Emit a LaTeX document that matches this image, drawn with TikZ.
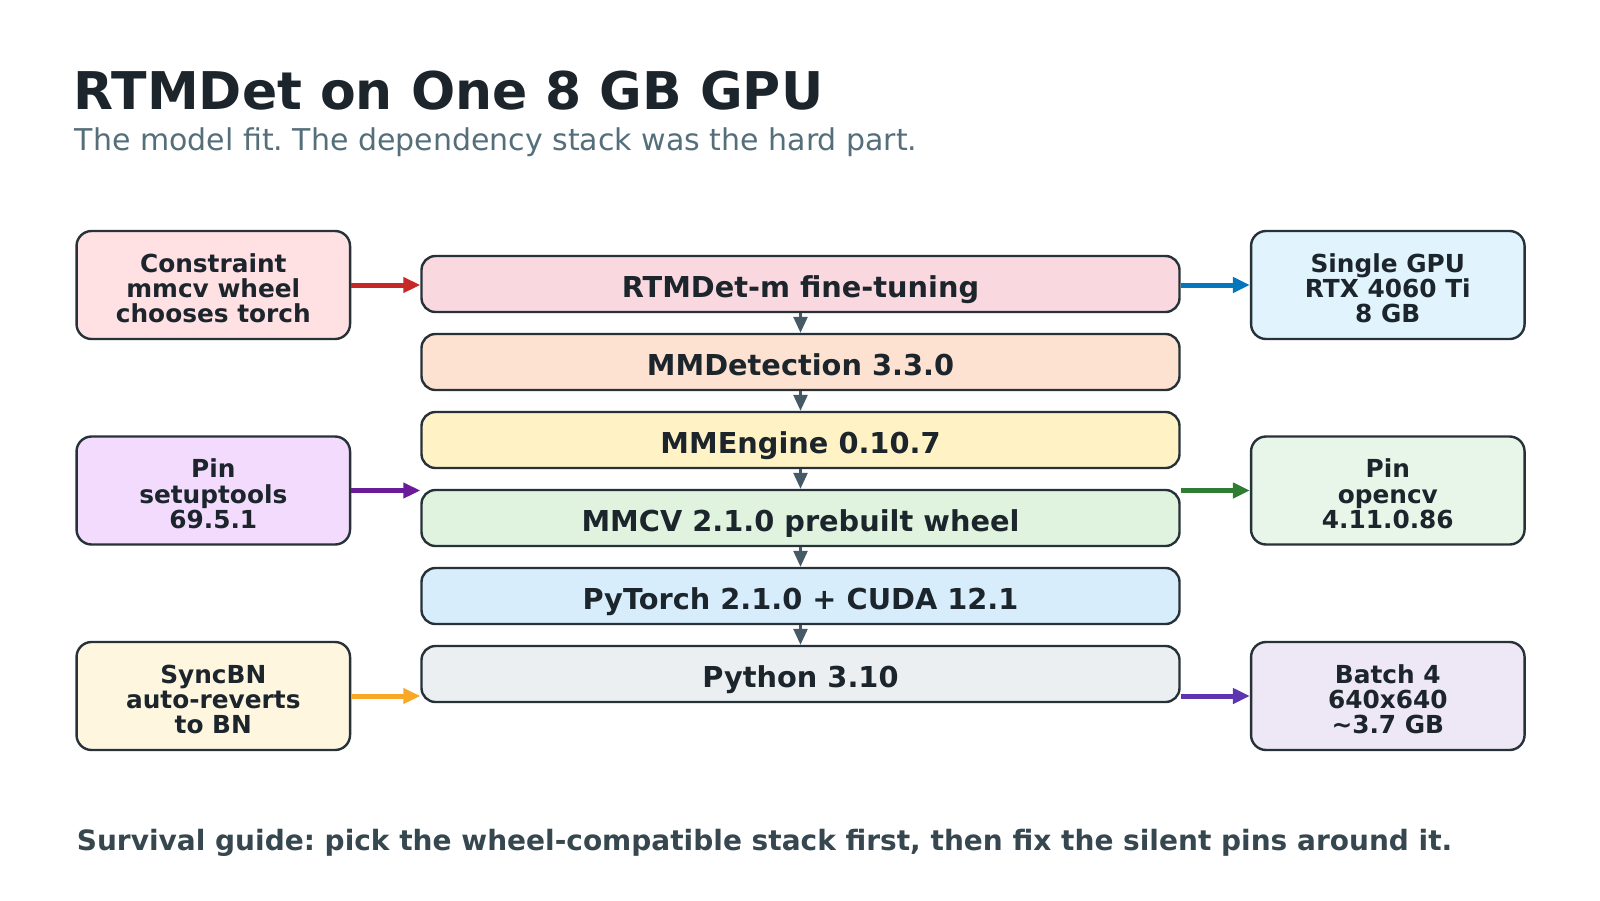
\documentclass[tikz,border=0pt]{standalone}
\usepackage{fontspec}
\setmainfont{DejaVu Sans}
\usetikzlibrary{arrows.meta}
\frenchspacing

\definecolor{ink}{HTML}{1C252C}
\definecolor{edge}{HTML}{263238}
\definecolor{subtle}{HTML}{546E7A}
\definecolor{foot}{HTML}{37474F}
\definecolor{down}{HTML}{455A64}
% side box fills
\definecolor{consfill}{HTML}{FFE0E3}
\definecolor{setupfill}{HTML}{F3DBFD}
\definecolor{syncfill}{HTML}{FFF6E0}
\definecolor{gpufill}{HTML}{E1F4FD}
\definecolor{opencvfill}{HTML}{E8F5E9}
\definecolor{batchfill}{HTML}{EDE7F6}
% side arrows
\definecolor{consline}{HTML}{C62828}
\definecolor{setupline}{HTML}{6A1B9A}
\definecolor{syncline}{HTML}{F9A825}
\definecolor{gpuline}{HTML}{0277BD}
\definecolor{opencvline}{HTML}{2E7D32}
\definecolor{batchline}{HTML}{5E35B1}

\tikzset{
  stackbox/.style={draw=edge, line width=1.2pt, rounded corners=7pt, minimum width=379pt, minimum height=28pt,
    inner sep=0pt, text height=13.2pt, text depth=0pt, text=ink, font=\fontsize{14.4}{16}\selectfont\bfseries},
  sidebox/.style={draw=edge, line width=1.2pt, rounded corners=7.5pt, minimum width=136.75pt, minimum height=54pt,
    inner sep=0pt, align=center, text=ink, font=\fontsize{12.4}{12.6}\selectfont\bfseries,
    execute at begin node={\rule{0pt}{38pt}}},
  sidearrow/.style={line width=2.5pt, -{Triangle[length=8.5pt,width=7.5pt]}},
  downarrow/.style={down, line width=1.3pt, -{Triangle[length=8pt,width=7pt]}}
}

\begin{document}
\begin{tikzpicture}[x=0.5pt, y=-0.5pt]
\useasboundingbox (0,0) rectangle (1600,900);

% heading
\node[anchor=base west, inner sep=0, text=ink, font=\fontsize{26}{30}\selectfont\bfseries] (title) at (73.5,109) {RTMDet on One 8 GB GPU};
\node[anchor=base west, inner sep=0, text=subtle, font=\fontsize{15}{18}\selectfont] (sub) at (74.5,150) {The model fit. The dependency stack was the hard part.};

% the stack
\foreach \n/\y/\c/\t in {rtm/284/F9D8E0/RTMDet-m fine-tuning, mmdet/362/FDE2D1/MMDetection 3.3.0,
  mmengine/440/FFF2C4/MMEngine 0.10.7, mmcv/518/DFF3DE/MMCV 2.1.0 prebuilt wheel,
  torch/596/D7EDFC/PyTorch 2.1.0 + CUDA 12.1, python/674/EBEFF2/Python 3.10} {
  \definecolor{fillc}{HTML}{\c}
  \node[stackbox, fill=fillc] (\n) at (800.5,\y) {\t};
}
\foreach \a/\b in {rtm/mmdet, mmdet/mmengine, mmengine/mmcv, mmcv/torch, torch/python}
  \draw[downarrow] (\a.south) -- (\b.north);

% left side
\node[sidebox, fill=consfill] (cons) at (213.3,285) {Constraint\\mmcv wheel\\chooses torch};
\node[sidebox, fill=setupfill] (setup) at (213.3,490.5) {Pin\\setuptools\\69.5.1};
\node[sidebox, fill=syncfill] (sync) at (213.3,696) {SyncBN\\auto-reverts\\to BN};

% right side
\node[sidebox, fill=gpufill] (gpu) at (1387.8,285) {Single GPU\\RTX 4060 Ti\\8 GB};
\node[sidebox, fill=opencvfill] (opencv) at (1387.8,490.5) {Pin\\opencv\\4.11.0.86};
\node[sidebox, fill=batchfill] (batch) at (1387.8,696) {Batch 4\\640x640\\\textasciitilde 3.7 GB};

\draw[sidearrow, consline] (cons.east) -- (cons.east -| rtm.west);
\draw[sidearrow, setupline] (setup.east) -- (setup.east -| mmcv.west);
\draw[sidearrow, syncline] (sync.east) -- (sync.east -| python.west);
\draw[sidearrow, gpuline] (gpu.west -| rtm.east) -- (gpu.west);
\draw[sidearrow, opencvline] (opencv.west -| mmcv.east) -- (opencv.west);
\draw[sidearrow, batchline] (batch.west -| python.east) -- (batch.west);

% footer
\node[anchor=base west, inner sep=0, text=foot, font=\fontsize{14}{16}\selectfont\bfseries] (note) at (76.5,850) {Survival guide: pick the wheel-compatible stack first, then fix the silent pins around it.};
\end{tikzpicture}
\end{document}
